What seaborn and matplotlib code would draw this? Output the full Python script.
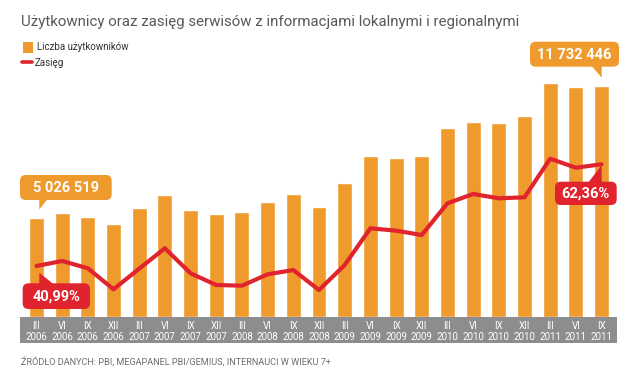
import matplotlib
matplotlib.use("Agg")
import matplotlib.pyplot as plt
from matplotlib.patches import Rectangle, FancyBboxPatch, Polygon
from matplotlib.lines import Line2D
import numpy as np
import pandas as pd
import seaborn as sns

# ---- data ----
months = ["III", "VI", "IX", "XII"] * 5 + ["III", "VI", "IX"]
years = ["2006"] * 4 + ["2007"] * 4 + ["2008"] * 4 + ["2009"] * 4 + ["2010"] * 4 + ["2011"] * 3
users = [5026519, 5297000, 5064000, 4740000, 5550000, 6178000, 5434000, 5216000,
         5348000, 5824000, 6244000, 5570000, 6816000, 8183000, 8067000, 8183000,
         9586000, 9890000, 9855000, 10179000, 11880000, 11678000, 11732446]
reach = [40.99, 42.04, 40.51, 36.10, 40.42, 44.71, 39.46, 37.00, 36.85, 39.24,
         40.14, 35.94, 41.20, 48.91, 48.41, 47.50, 54.16, 56.12, 55.21, 55.42,
         63.53, 61.64, 62.36]
labels = [f"{m}\n{y}" for m, y in zip(months, years)]
title = "Użytkownicy oraz zasięg serwisów z informacjami lokalnymi i regionalnymi"
legend_labels = ["Liczba użytkowników", "Zasięg"]
source = "ŹRÓDŁO DANYCH: PBI, MEGAPANEL PBI/GEMIUS, INTERNAUCI W WIEKU 7+"
callout_users = ["5 026 519", "11 732 446"]
callout_reach = ["40,99%", "62,36%"]

ORANGE = "#EF9A2C"
RED = "#E0242E"
GRAY = "#8D8D8F"
TXT = "#58595B"

sns.set_theme(style="white")
plt.rcParams["font.family"] = ["Roboto", "DejaVu Sans"]

W, H = 640, 372
fig = plt.figure(figsize=(6.4, 3.72), dpi=100)
fig.patch.set_facecolor("white")

def fx(x):
    return x / W

def fy(y):
    return 1 - y / H

# axes geometry (pixels)
left_px, right_px = 20, 616.7
base_px, top_px = 317.3, 40
ax = fig.add_axes([fx(left_px), fy(base_px), fx(right_px - left_px), (base_px - top_px) / H])
ax.patch.set_alpha(0)

df = pd.DataFrame({"label": labels, "users": users, "reach": reach, "pos": np.arange(len(users))})
sns.barplot(data=df, x="label", y="users", ax=ax, color=ORANGE, width=0.58,
            saturation=1, order=labels)
ax.set_xlim(-0.64, len(users) - 1 + 0.59)
ax.set_ylim(0, 14.04e6)
for s in ax.spines.values():
    s.set_visible(False)
ax.set_yticks([])
ax.set_xlabel("")
ax.set_ylabel("")
ax.set_xticks(range(len(labels)))
ax.set_xticklabels(labels, color="white", fontsize=7, linespacing=1.05)
ax.tick_params(axis="x", length=0, pad=3)

ax2 = ax.twinx()
ax2.patch.set_alpha(0)
sns.lineplot(data=df, x="pos", y="reach", ax=ax2, color=RED, linewidth=3.0)
ax2.lines[0].set_solid_joinstyle("round")
ax2.lines[0].set_solid_capstyle("round")
ax2.set_xlim(ax.get_xlim())
ax2.set_ylim(30.21, 88.47)
for s in ax2.spines.values():
    s.set_visible(False)
ax2.set_yticks([])
ax2.set_xlabel("")
ax2.set_ylabel("")

# gray band behind tick labels
fig.patches.append(Rectangle((fx(left_px), fy(343.3)), fx(right_px - left_px), (343.3 - base_px) / H,
                             transform=fig.transFigure, facecolor=GRAY, edgecolor="none", zorder=-1))

# title
fig.text(fx(21), fy(22), title, fontsize=10.8, color=TXT, va="center", ha="left")

# legend
fig.patches.append(Rectangle((fx(22.7), fy(53.3)), fx(10.6), 11 / H, transform=fig.transFigure,
                             facecolor=ORANGE, edgecolor="none"))
fig.text(fx(37), fy(47.5), legend_labels[0], fontsize=7, color="#333333", va="center", ha="left")
fig.lines.append(Line2D([fx(22), fx(32)], [fy(62), fy(62)], transform=fig.transFigure,
                        color=RED, linewidth=2.6, solid_capstyle="round"))
fig.text(fx(34.5), fy(62.5), legend_labels[1], fontsize=7, color="#333333", va="center", ha="left")

# source
fig.text(fx(20.7), fy(361.7), source, fontsize=6.6, color="#6D6E70", va="center", ha="left")

# callouts
def callout(x0, y0, x1, y1, tail, color, text):
    fig.patches.append(FancyBboxPatch((fx(x0), fy(y1)), fx(x1 - x0), (y1 - y0) / H,
                                      boxstyle="round,pad=0,rounding_size=0.009",
                                      mutation_aspect=W / H,
                                      transform=fig.transFigure, facecolor=color, edgecolor="none"))
    fig.patches.append(Polygon([(fx(px), fy(py)) for px, py in tail], closed=True,
                               transform=fig.transFigure, facecolor=color, edgecolor="none"))
    fig.text(fx((x0 + x1) / 2), fy((y0 + y1) / 2 + 0.5), text, fontsize=10.5, fontweight="bold",
             color="white", ha="center", va="center")

callout(20, 175, 111.7, 200, [(39.3, 199), (39.3, 209.5), (47.5, 199)], ORANGE, callout_users[0])
callout(22.7, 283.3, 90, 309, [(39.3, 284), (39.3, 272.7), (53.3, 284)], RED, callout_reach[0])
callout(530, 41.7, 619, 66.7, [(601.7, 66), (601.7, 77.7), (591.7, 66)], ORANGE, callout_users[1])
callout(555, 181.7, 616.7, 205, [(601.7, 182.5), (601.7, 165), (588.3, 182.5)], RED, callout_reach[1])

fig.savefig("out.png", dpi=100, facecolor="white")
